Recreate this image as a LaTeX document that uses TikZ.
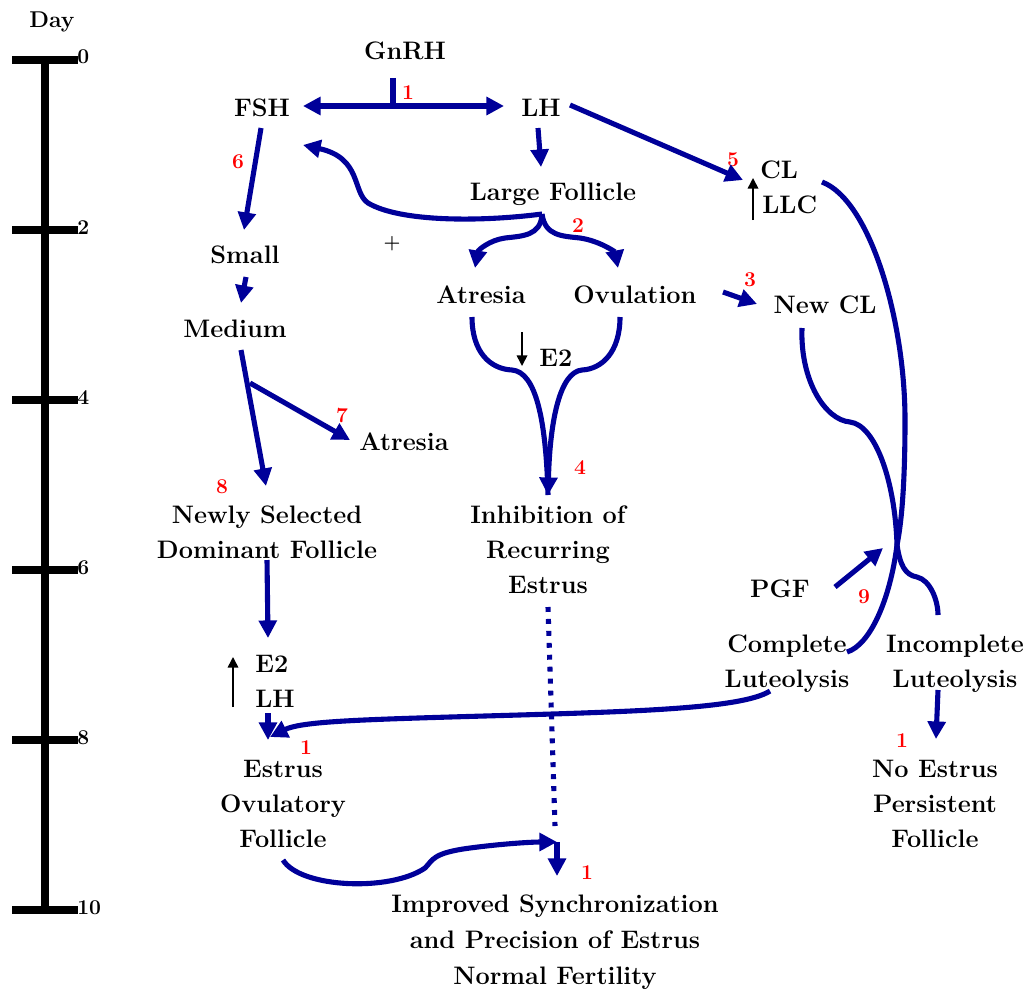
\documentclass[tikz,border=0pt]{standalone}
\usetikzlibrary{arrows.meta}
\definecolor{navy}{RGB}{0,0,153}
\begin{document}
\begin{tikzpicture}[x=0.02cm,y=-0.02cm,
 lbl/.style={font=\bfseries\fontsize{14.4}{17}\selectfont, inner sep=0pt, anchor=base},
 lblw/.style={lbl, anchor=base west},
 num/.style={font=\bfseries\fontsize{12}{14}\selectfont, text=red, inner sep=0pt},
 daylbl/.style={font=\bfseries\fontsize{12}{14}\selectfont, inner sep=0pt, anchor=base west},
 flow/.style={draw=navy, line width=2.9pt},
 arr/.style={flow, -{Triangle[length=10pt,width=10pt]}},
 darr/.style={flow, {Triangle[length=10pt,width=10pt]}-{Triangle[length=10pt,width=10pt]}},
 barr/.style={draw=black, line width=0.9pt, -{Triangle[length=6pt,width=6pt]}},
 axisline/.style={draw=black, line width=4.5pt},
 dots/.style={draw=navy, line width=2.9pt, dash pattern=on 2.8pt off 4pt}]
\useasboundingbox (0,0) rectangle (1026,990);

% ---- day axis
\node[font=\bfseries\fontsize{13}{15}\selectfont, inner sep=0pt, anchor=base] (day) at (52,28) {Day};
\draw[axisline] (45,60) -- (45,910);
\foreach \y/\d in {60/0,230/2,400/4,570/6,740/8,910/10}{
  \draw[axisline] (12,\y) -- (78,\y);
  \node[daylbl] (d\d) at (77,\y+4) {\d};
}

% ---- labels
\node[lbl] (gnrh) at (405,60) {GnRH};
\node[lbl] (fsh) at (262,116) {FSH};
\node[lbl] (lh) at (541,116) {LH};
\node[lbl] (lf) at (553,200) {Large Follicle};
\node[lblw] (cl) at (760,178) {CL};
\node[lblw] (llc) at (762,213) {LLC};
\node[lbl] (small) at (245,263) {Small};
\node[lbl] (medium) at (235,337) {Medium};
\node[font=\bfseries\fontsize{11}{13}\selectfont, inner sep=0pt] (plus) at (392,244) {+};
\node[lbl] (atr1) at (481,303) {Atresia};
\node[lbl] (ovu) at (635,303) {Ovulation};
\node[lbl] (newcl) at (825,313) {New CL};
\node[lblw] (e2a) at (539,366) {E2};
\node[lbl] (atr2) at (404,450) {Atresia};
\node[lbl] (nsd1) at (267,523) {Newly Selected};
\node[lbl] (nsd2) at (267,558) {Dominant Follicle};
\node[lbl] (inh1) at (548,523) {Inhibition of};
\node[lbl] (inh2) at (548,558) {Recurring};
\node[lbl] (inh3) at (548,593) {Estrus};
\node[lbl] (pgf) at (780,597) {PGF};
\node[lbl] (cpl1) at (787,652) {Complete};
\node[lbl] (cpl2) at (787,687) {Luteolysis};
\node[lbl] (inc1) at (955,652) {Incomplete};
\node[lbl] (inc2) at (955,687) {Luteolysis};
\node[lblw] (e2b) at (255,672) {E2};
\node[lblw] (lhb) at (255,707) {LH};
\node[lbl] (est1) at (283,777) {Estrus};
\node[lbl] (est2) at (283,812) {Ovulatory};
\node[lbl] (est3) at (283,847) {Follicle};
\node[lbl] (noe1) at (935,777) {No Estrus};
\node[lbl] (noe2) at (935,812) {Persistent};
\node[lbl] (noe3) at (935,847) {Follicle};
\node[lbl] (imp1) at (555,912) {Improved Synchronization};
\node[lbl] (imp2) at (555,948) {and Precision of Estrus};
\node[lbl] (imp3) at (555,984) {Normal Fertility};

% ---- red numbers
\node[num] (n1a) at (408,93) {1};
\node[num] (n6) at (238,162) {6};
\node[num] (n5) at (733,160) {5};
\node[num] (n2) at (578,226) {2};
\node[num] (n3) at (750,280) {3};
\node[num] (n7) at (342,415) {7};
\node[num] (n4) at (580,468) {4};
\node[num] (n8) at (222,487) {8};
\node[num] (n9) at (864,597) {9};
\node[num] (n1b) at (306,748) {1};
\node[num] (n1c) at (902,741) {1};
\node[num] (n1d) at (587,873) {1};

% ---- connector end points
\coordinate (gtop) at (393,78);
\coordinate (gjoin) at (393,106);
\coordinate (fshR) at (303,106);
\coordinate (lhL) at (504,106);
\coordinate (lhB) at (538,128);
\coordinate (lfT) at (541,167);
\coordinate (lhR) at (570,105);
\coordinate (clL) at (743,180);
\coordinate (lfB) at (542,214);
\coordinate (fshB) at (303,145);
\coordinate (atr1T) at (475,268);
\coordinate (ovuT) at (618,268);
\coordinate (atr1B) at (472,317);
\coordinate (ovuB) at (620,317);
\coordinate (inhT) at (548,495);
\coordinate (ovuR) at (723,292);
\coordinate (newclL) at (757,304);
\coordinate (fshS) at (261,128);
\coordinate (smallT) at (244,230);
\coordinate (smallB) at (246,277);
\coordinate (medT) at (241,303);
\coordinate (medB) at (241,350);
\coordinate (medJ) at (250,383);
\coordinate (atr2L) at (350,440);
\coordinate (nsdT) at (266,486);
\coordinate (nsdB) at (267,560);
\coordinate (e2bT) at (268,638);
\coordinate (lhbB) at (268,713);
\coordinate (estT) at (268,740);
\coordinate (estT2) at (270,737);
\coordinate (cplE) at (770,691);
\coordinate (incB) at (938,690);
\coordinate (noeT) at (936,739);
\coordinate (inhB) at (548,607);
\coordinate (impD) at (555,826);
\coordinate (estB) at (283,860);
\coordinate (impJ) at (557,842);
\coordinate (impT) at (557,876);
\coordinate (pgfR) at (835,587);
\coordinate (crossP) at (883,548);
\coordinate (clR) at (822,182);
\coordinate (cplT) at (847,652);
\coordinate (newclB) at (802,328);
\coordinate (incT) at (938,615);

% ---- blue connectors
\draw[flow] (gtop) -- (gjoin);
\draw[darr] (fshR) -- (lhL);
\draw[arr] (lhB) -- (lfT);
\draw[arr] (lhR) -- (clL);
\draw[arr] (lfB) .. controls (480,222) and (400,222) .. (368,203)
                 .. controls (352,192) and (362,158) .. (fshB);
\draw[arr] (lfB) .. controls (541,236) and (522,236) .. (505,238)
                 .. controls (490,240) and (478,250) .. (atr1T);
\draw[arr] (lfB) .. controls (545,236) and (562,236) .. (580,238)
                 .. controls (600,241) and (615,252) .. (ovuT);
\draw[flow] (atr1B) .. controls (472,352) and (490,369) .. (512,370)
                 .. controls (536,372) and (546,420) .. (inhT);
\draw[arr] (ovuB) .. controls (620,352) and (602,369) .. (582,370)
                 .. controls (560,372) and (550,420) .. (inhT);
\draw[arr] (ovuR) -- (newclL);
\draw[arr] (fshS) -- (smallT);
\draw[arr] (smallB) -- (medT);
\draw[arr] (medB) -- (nsdT);
\draw[arr] (medJ) -- (atr2L);
\draw[arr] (nsdB) -- (e2bT);
\draw[arr] (lhbB) -- (estT);
\draw[arr] (cplE) .. controls (740,710) and (620,712) .. (450,717)
                 .. controls (350,720) and (300,722) .. (estT2);
\draw[arr] (incB) -- (noeT);
\draw[dots] (inhB) -- (impD);
\draw[arr] (estB) .. controls (300,888) and (390,892) .. (425,868)
                 .. controls (433,860) and (432,853) .. (470,848)
                 .. controls (500,844) and (530,842) .. (impJ);
\draw[arr] (impJ) -- (impT);
\draw[arr] (pgfR) -- (crossP);
\draw[flow] (clR) .. controls (870,200) and (905,320) .. (905,420)
                 .. controls (905,480) and (902,520) .. (897,545)
                 .. controls (890,600) and (870,645) .. (cplT);
\draw[flow] (newclB) .. controls (800,380) and (825,420) .. (850,422)
                 .. controls (875,425) and (895,480) .. (897,545)
                 .. controls (900,565) and (905,575) .. (917,577)
                 .. controls (930,580) and (938,600) .. (incT);

% ---- black arrows
\coordinate (llcA) at (753,220); \coordinate (llcB) at (753,178);
\draw[barr] (llcA) -- (llcB);
\coordinate (e2aA) at (522,332); \coordinate (e2aB) at (522,366);
\draw[barr] (e2aA) -- (e2aB);
\coordinate (e2bA) at (233,707); \coordinate (e2bB) at (233,657);
\draw[barr] (e2bA) -- (e2bB);
\end{tikzpicture}
\end{document}
